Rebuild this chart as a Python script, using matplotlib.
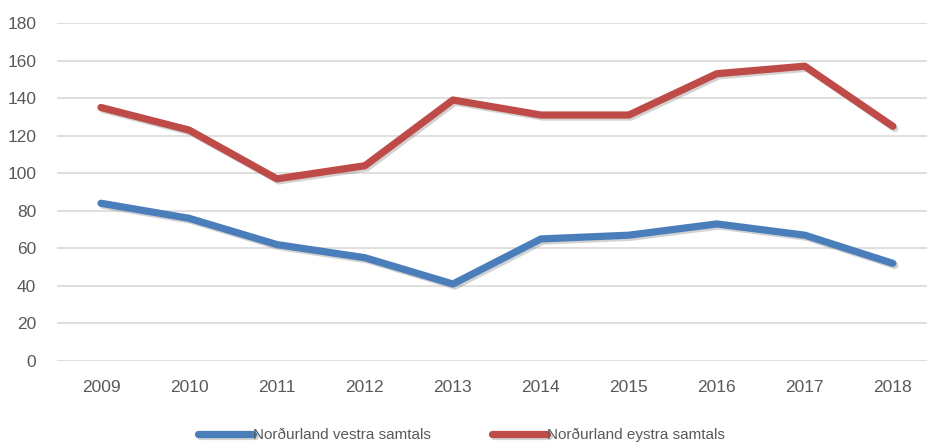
import matplotlib.pyplot as plt
import matplotlib.patheffects as pe

plt.rcParams['font.family'] = ['Liberation Sans', 'DejaVu Sans']

# Gögn
ar = ['2009', '2010', '2011', '2012', '2013', '2014', '2015', '2016', '2017', '2018']
vestra = [84, 76, 62, 55, 41, 65, 67, 73, 67, 52]
eystra = [135, 123, 97, 104, 139, 131, 131, 153, 157, 125]

W, H = 928, 447
fig = plt.figure(figsize=(W / 100, H / 100), dpi=100)
ax = fig.add_axes([57 / W, (H - 361) / H, (W - 57) / W, (361 - 23) / H])

x = list(range(len(ar)))
skuggi = [pe.SimpleLineShadow(offset=(1.5, -1.5), shadow_color='gray', alpha=0.35), pe.Normal()]
ax.plot(x, vestra, color='#4A7EBB', lw=5.2, solid_capstyle='round', solid_joinstyle='round',
        label='Norðurland vestra samtals', path_effects=skuggi)
ax.plot(x, eystra, color='#BE4B48', lw=5.2, solid_capstyle='round', solid_joinstyle='round',
        label='Norðurland eystra samtals', path_effects=skuggi)

ax.set_xlim(-0.5, 9.4)
ax.set_ylim(0, 180)
ax.set_yticks(range(0, 181, 20))
ax.set_xticks(x)
ax.set_xticklabels(ar)
ax.grid(axis='y', color='#D9D9D9', lw=1.2)
ax.set_axisbelow(True)
for s in ax.spines.values():
    s.set_visible(False)
ax.tick_params(length=0, labelsize=12.5, labelcolor='#595959')
ax.tick_params(axis='x', pad=14)
ax.tick_params(axis='y', pad=15)

leg = fig.legend(loc='center', bbox_to_anchor=(461 / W, 1 - 435 / H), ncol=2, frameon=False,
                 fontsize=11, handlelength=3.6, handletextpad=0.0, columnspacing=4.0)
for t in leg.get_texts():
    t.set_color('#595959')

fig.savefig('out.png', dpi=100)
